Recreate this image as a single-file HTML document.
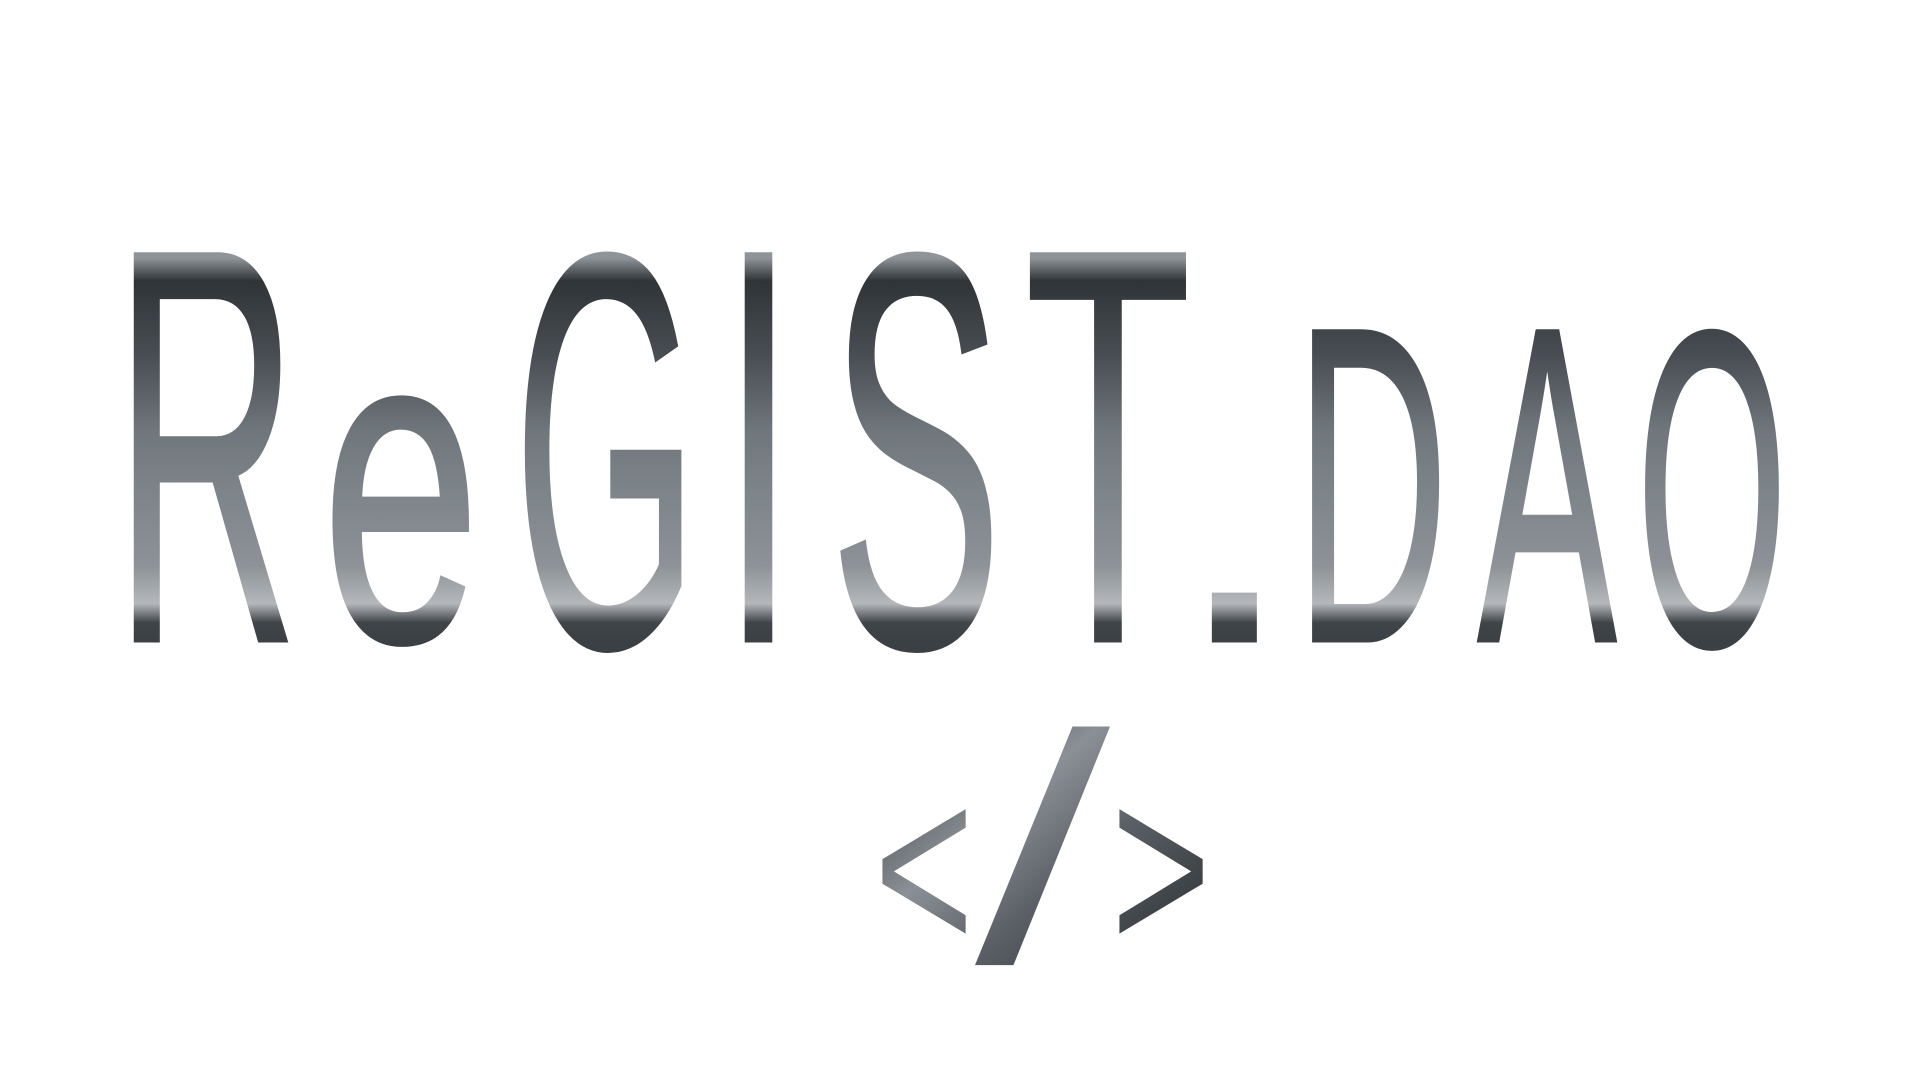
<!DOCTYPE html>
<html><head><meta charset="utf-8">
<style>
html,body{margin:0;padding:0;background:#fff;width:1920px;height:1080px;overflow:hidden}
svg{display:block}
text{font-family:"Liberation Sans",sans-serif;}
</style></head>
<body>
<svg width="1920" height="1080" viewBox="0 0 1920 1080">
<defs>
<linearGradient id="metal" gradientUnits="userSpaceOnUse" x1="0" y1="258" x2="0" y2="642">
<stop offset="0" stop-color="#8f9498"/>
<stop offset="0.06" stop-color="#2f3437"/>
<stop offset="0.25" stop-color="#474d52"/>
<stop offset="0.45" stop-color="#6f767c"/>
<stop offset="0.6" stop-color="#7c8389"/>
<stop offset="0.8" stop-color="#8c9297"/>
<stop offset="0.9" stop-color="#b4b8bb"/>
<stop offset="0.95" stop-color="#3f4448"/>
<stop offset="1" stop-color="#3b4044"/>
</linearGradient>
<linearGradient id="metal2" gradientUnits="userSpaceOnUse" x1="900" y1="738" x2="1100" y2="969">
<stop offset="0" stop-color="#3d4246"/>
<stop offset="0.4" stop-color="#8a9095"/>
<stop offset="0.7" stop-color="#5a6065"/>
<stop offset="1" stop-color="#3d4246"/>
</linearGradient>
</defs>
<g fill="url(#metal)" stroke="url(#metal)" stroke-width="5">
<text x="114" y="640" font-size="560" textLength="184" lengthAdjust="spacingAndGlyphs">R</text>
<text x="322" y="640" font-size="450" textLength="158" lengthAdjust="spacingAndGlyphs">e</text>
<text x="514" y="645" font-size="560" textLength="184" lengthAdjust="spacingAndGlyphs">G</text>
<text x="721" y="640" font-size="560" textLength="75" lengthAdjust="spacingAndGlyphs">I</text>
<text x="830" y="645" font-size="560" textLength="172" lengthAdjust="spacingAndGlyphs">S</text>
<text x="1025" y="640" font-size="560" textLength="166" lengthAdjust="spacingAndGlyphs">T</text>
<text x="1176" y="640" font-size="420">.</text>
<text x="1296" y="640" font-size="448" textLength="152" lengthAdjust="spacingAndGlyphs">D</text>
<text x="1478" y="640" font-size="448" textLength="138" lengthAdjust="spacingAndGlyphs">A</text>
<text x="1637" y="644" font-size="448" textLength="150" lengthAdjust="spacingAndGlyphs">O</text>
</g>
<g fill="url(#metal2)">
<text x="874" y="952" font-size="245" textLength="100" lengthAdjust="spacingAndGlyphs">&lt;</text>
<text x="975" y="962" font-size="325" textLength="135" lengthAdjust="spacingAndGlyphs">/</text>
<text x="1111" y="952" font-size="245" textLength="100" lengthAdjust="spacingAndGlyphs">&gt;</text>
</g>
</svg>
</body></html>
